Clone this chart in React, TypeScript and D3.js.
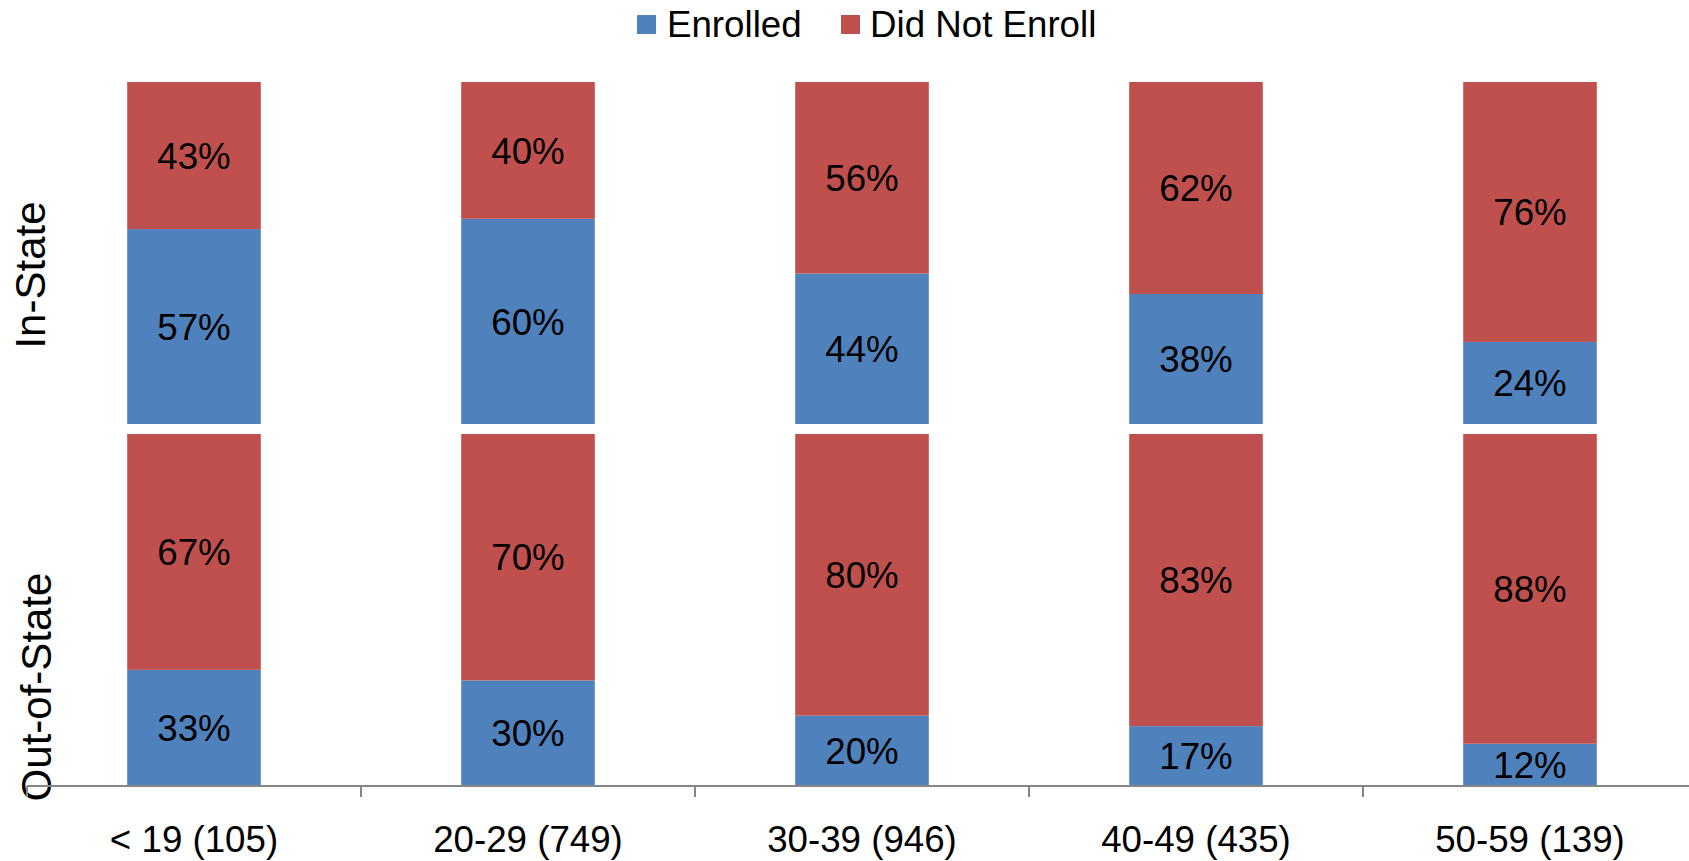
import React from "react";
import * as d3 from "d3";

const categories = ["< 19 (105)", "20-29 (749)", "30-39 (946)", "40-49 (435)", "50-59 (139)"];
const inStateEnrolled = [57, 60, 44, 38, 24];
const inStateNotEnrolled = [43, 40, 56, 62, 76];
const outStateEnrolled = [33, 30, 20, 17, 12];
const outStateNotEnrolled = [67, 70, 80, 83, 88];
const seriesNames = ["Enrolled", "Did Not Enroll"];
const panelNames = ["In-State", "Out-of-State"];

const W = 1689;
const H = 861;
const BLUE = "#4F81BD";
const RED = "#C0504D";
const AXIS = "#868686";
const FONT = "'Liberation Sans', Arial, Helvetica, sans-serif";

export default function App() {
  const x = d3
    .scaleBand<string>()
    .domain(categories)
    .range([27, 1697])
    .paddingInner(0.6)
    .paddingOuter(0.3);
  const step = x.step();
  const bw = x.bandwidth();

  const panels = [
    { name: panelNames[0], enr: inStateEnrolled, not: inStateNotEnrolled, y: d3.scaleLinear().domain([0, 100]).range([424, 82]), labelY: 275, labelX: 45 },
    { name: panelNames[1], enr: outStateEnrolled, not: outStateNotEnrolled, y: d3.scaleLinear().domain([0, 100]).range([786, 434]), labelY: 687, labelX: 51 },
  ];

  const axisY = 786;
  const ticks = d3.range(categories.length + 1).map((k) => 27 + k * step);

  return (
    <svg width={W} height={H} style={{ position: "absolute", left: 0, top: 0, background: "#fff" }} fontFamily={FONT}>
      {/* legend */}
      <rect x={637} y={15} width={19} height={19} fill={BLUE} />
      <text x={667} y={36.5} fontSize={36.7} fill="#000">{seriesNames[0]}</text>
      <rect x={841} y={15} width={19} height={19} fill={RED} />
      <text x={870} y={36.5} fontSize={36.7} fill="#000">{seriesNames[1]}</text>

      {panels.map((p, pi) => (
        <g key={pi}>
          {categories.map((c, i) => {
            const x0 = x(c)!;
            const yE0 = p.y(0);
            const yE1 = p.y(p.enr[i]);
            const yN1 = p.y(p.enr[i] + p.not[i]);
            return (
              <g key={c}>
                <rect x={x0} y={yE1} width={bw} height={yE0 - yE1} fill={BLUE} />
                <rect x={x0} y={yN1} width={bw} height={yE1 - yN1} fill={RED} />
                <text x={x0 + bw / 2} y={(yE0 + yE1) / 2} dy="0.36em" textAnchor="middle" fontSize={36.7} fill="#000">
                  {p.enr[i]}%
                </text>
                <text x={x0 + bw / 2} y={(yE1 + yN1) / 2} dy="0.36em" textAnchor="middle" fontSize={36.7} fill="#000">
                  {p.not[i]}%
                </text>
              </g>
            );
          })}
          <text
            transform={`translate(${p.labelX},${p.labelY}) rotate(-90)`}
            textAnchor="middle"
            fontSize={42}
            fill="#000"
          >
            {p.name}
          </text>
        </g>
      ))}

      {/* x axis */}
      <line x1={27} x2={W} y1={axisY} y2={axisY} stroke={AXIS} strokeWidth={2} />
      {ticks.map((t, k) => (
        <line key={k} x1={t} x2={t} y1={axisY} y2={axisY + 11} stroke={AXIS} strokeWidth={2} />
      ))}
      {categories.map((c) => (
        <text key={c} x={x(c)! + bw / 2} y={852} textAnchor="middle" fontSize={36.7} fill="#000">
          {c}
        </text>
      ))}
    </svg>
  );
}
